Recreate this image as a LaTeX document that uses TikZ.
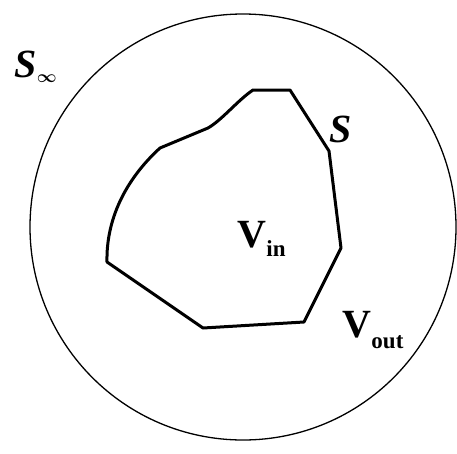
\documentclass[tikz,border=0pt]{standalone}
\usepackage{amsmath}
\usepackage{fontspec}
\setmainfont{Liberation Serif}
\usetikzlibrary{positioning}

\tikzset{
  lbl/.style={anchor=base west, inner sep=0pt, font=\fontsize{40}{40}\selectfont\bfseries},
  sub/.style={anchor=base west, inner sep=0pt, font=\fontsize{23}{23}\selectfont\bfseries}
}

\begin{document}
\begin{tikzpicture}[x=1pt, y=-1pt, line join=round]
\useasboundingbox (0,0) rectangle (457,453);
% outer sphere
\draw[line width=1.3pt] (243,227) circle (213);
% closed surface S
\draw[line width=3pt]
  (160,148) -- (208,128) .. controls (222,120) and (238,100) .. (253,90)
  -- (290,90) -- (329,151) -- (341,248) -- (304,322) -- (203,328) -- (107,262)
  .. controls (106,220) and (125,180) .. (160,148);
% labels
\node[lbl, font=\fontsize{40}{40}\selectfont\bfseries\itshape] (sinf) at (14,77) {S};
\node[sub, font=\fontsize{19}{19}\selectfont] (sinfsub) at ([xshift=0pt,yshift=-5pt]sinf.base east) {$\boldsymbol{\infty}$};
\node[lbl, font=\fontsize{40}{40}\selectfont\bfseries\itshape] (s) at (329,142) {S};
\node[lbl] (vin) at (237,247) {V};
\node[sub] (vinsub) at ([yshift=-9pt]vin.base east) {in};
\node[lbl] (vout) at (342,337) {V};
\node[sub] (voutsub) at ([yshift=-11pt]vout.base east) {out};
\end{tikzpicture}
\end{document}
